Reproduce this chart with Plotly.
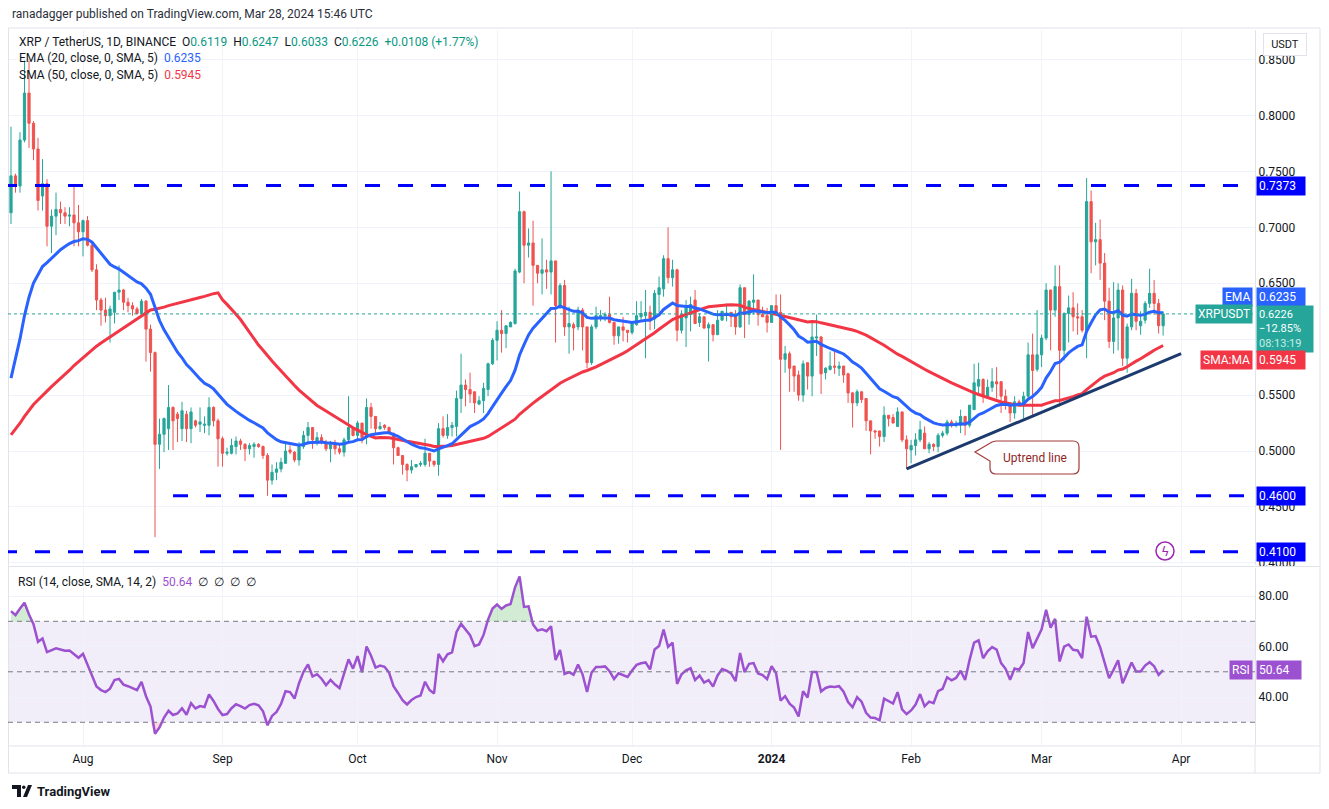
import numpy as np
import pandas as pd
import plotly.graph_objects as go
from plotly.subplots import make_subplots

# closes before the first visible candle (27 May - 15 Jul 2023), only used to warm up EMA/SMA/RSI
history_closes = [0.470, 0.487, 0.511, 0.513, 0.518,
                  0.515, 0.522, 0.520, 0.523, 0.510, 0.540, 0.525, 0.531, 0.520, 0.495,
                  0.515, 0.525, 0.515, 0.475, 0.490, 0.484, 0.486, 0.488, 0.491, 0.501,
                  0.508, 0.499, 0.494, 0.486, 0.487, 0.481, 0.480, 0.472, 0.475, 0.473,
                  0.475, 0.479, 0.484, 0.478, 0.478, 0.471, 0.475, 0.468, 0.470, 0.472,
                  0.474, 0.473, 0.810, 0.705, 0.713]

# daily candles (open, high, low, close)
jul = [(0.713, 0.790, 0.703, 0.746), (0.746, 0.748, 0.731, 0.737), (0.737, 0.785, 0.731, 0.778),
       (0.778, 0.849, 0.776, 0.820), (0.820, 0.849, 0.771, 0.793), (0.793, 0.795, 0.760, 0.770),
       (0.770, 0.780, 0.715, 0.724), (0.728, 0.761, 0.715, 0.739), (0.739, 0.743, 0.683, 0.701),
       (0.701, 0.716, 0.677, 0.710), (0.710, 0.731, 0.693, 0.716), (0.716, 0.723, 0.703, 0.713),
       (0.713, 0.718, 0.703, 0.710), (0.710, 0.718, 0.701, 0.711), (0.711, 0.736, 0.683, 0.704),
       (0.704, 0.720, 0.683, 0.696)]
aug = [(0.696, 0.707, 0.674, 0.706), (0.706, 0.710, 0.683, 0.684), (0.684, 0.688, 0.660, 0.662),
       (0.662, 0.667, 0.626, 0.635), (0.635, 0.637, 0.612, 0.626), (0.626, 0.637, 0.615, 0.621),
       (0.621, 0.630, 0.597, 0.627), (0.624, 0.642, 0.614, 0.642), (0.642, 0.666, 0.635, 0.644),
       (0.644, 0.645, 0.626, 0.633), (0.633, 0.637, 0.624, 0.630), (0.630, 0.633, 0.621, 0.627),
       (0.627, 0.629, 0.622, 0.623), (0.623, 0.636, 0.621, 0.634), (0.634, 0.635, 0.580, 0.609),
       (0.609, 0.613, 0.571, 0.588), (0.588, 0.589, 0.423, 0.506), (0.506, 0.529, 0.484, 0.515),
       (0.515, 0.530, 0.499, 0.529), (0.520, 0.559, 0.501, 0.539), (0.539, 0.540, 0.501, 0.527),
       (0.533, 0.535, 0.508, 0.529), (0.520, 0.544, 0.509, 0.536), (0.533, 0.536, 0.508, 0.520),
       (0.520, 0.539, 0.507, 0.535), (0.527, 0.528, 0.521, 0.523), (0.524, 0.539, 0.517, 0.526),
       (0.523, 0.531, 0.516, 0.524), (0.523, 0.548, 0.514, 0.539), (0.539, 0.540, 0.522, 0.527),
       (0.527, 0.529, 0.486, 0.511)]
sep = [(0.511, 0.513, 0.486, 0.498), (0.498, 0.503, 0.496, 0.499), (0.498, 0.511, 0.497, 0.505),
       (0.504, 0.513, 0.497, 0.509), (0.509, 0.511, 0.501, 0.506), (0.506, 0.507, 0.491, 0.502),
       (0.502, 0.507, 0.497, 0.505), (0.504, 0.508, 0.494, 0.506), (0.506, 0.507, 0.503, 0.504),
       (0.504, 0.505, 0.493, 0.496), (0.496, 0.498, 0.460, 0.474), (0.474, 0.488, 0.470, 0.481),
       (0.481, 0.490, 0.474, 0.484), (0.484, 0.494, 0.481, 0.490), (0.489, 0.508, 0.489, 0.500),
       (0.501, 0.505, 0.497, 0.499), (0.499, 0.500, 0.490, 0.492), (0.492, 0.508, 0.487, 0.504),
       (0.504, 0.518, 0.502, 0.514), (0.514, 0.526, 0.506, 0.521), (0.521, 0.521, 0.502, 0.510),
       (0.507, 0.517, 0.505, 0.512), (0.512, 0.515, 0.506, 0.508), (0.508, 0.510, 0.500, 0.502),
       (0.502, 0.509, 0.490, 0.506), (0.506, 0.510, 0.497, 0.502), (0.502, 0.506, 0.497, 0.499),
       (0.499, 0.512, 0.495, 0.510), (0.510, 0.549, 0.507, 0.521), (0.521, 0.521, 0.513, 0.514)]
oct_ = [(0.514, 0.527, 0.511, 0.525), (0.525, 0.525, 0.507, 0.512), (0.512, 0.547, 0.506, 0.539),
        (0.539, 0.543, 0.520, 0.531), (0.531, 0.531, 0.516, 0.520), (0.520, 0.526, 0.519, 0.522),
        (0.523, 0.524, 0.519, 0.521), (0.521, 0.522, 0.516, 0.516), (0.516, 0.516, 0.488, 0.503),
        (0.503, 0.504, 0.496, 0.496), (0.496, 0.496, 0.479, 0.488), (0.488, 0.489, 0.473, 0.483),
        (0.483, 0.492, 0.480, 0.486), (0.486, 0.488, 0.485, 0.488), (0.488, 0.491, 0.486, 0.489),
        (0.488, 0.511, 0.486, 0.498), (0.498, 0.498, 0.486, 0.491), (0.491, 0.491, 0.486, 0.488),
        (0.488, 0.525, 0.478, 0.520), (0.520, 0.531, 0.512, 0.514), (0.514, 0.533, 0.511, 0.521),
        (0.521, 0.526, 0.513, 0.523), (0.522, 0.554, 0.513, 0.547), (0.547, 0.587, 0.534, 0.559),
        (0.559, 0.564, 0.540, 0.555), (0.555, 0.570, 0.543, 0.551), (0.553, 0.553, 0.534, 0.543),
        (0.542, 0.549, 0.541, 0.545), (0.545, 0.561, 0.534, 0.556), (0.555, 0.579, 0.549, 0.578),
        (0.578, 0.601, 0.577, 0.599)]
nov = [(0.599, 0.616, 0.581, 0.608), (0.608, 0.626, 0.588, 0.605), (0.605, 0.612, 0.592, 0.612),
       (0.611, 0.616, 0.611, 0.615), (0.614, 0.663, 0.613, 0.661), (0.660, 0.732, 0.659, 0.714),
       (0.714, 0.715, 0.650, 0.684), (0.684, 0.699, 0.673, 0.686), (0.686, 0.706, 0.630, 0.666),
       (0.666, 0.666, 0.650, 0.659), (0.659, 0.690, 0.640, 0.662), (0.662, 0.671, 0.645, 0.660),
       (0.660, 0.750, 0.640, 0.670), (0.670, 0.670, 0.597, 0.630), (0.630, 0.650, 0.627, 0.648),
       (0.648, 0.653, 0.603, 0.611), (0.611, 0.629, 0.587, 0.614), (0.613, 0.615, 0.590, 0.610),
       (0.611, 0.629, 0.608, 0.626), (0.626, 0.628, 0.590, 0.611), (0.611, 0.611, 0.574, 0.579),
       (0.579, 0.613, 0.577, 0.611), (0.611, 0.629, 0.609, 0.621), (0.620, 0.626, 0.616, 0.621),
       (0.621, 0.624, 0.616, 0.622), (0.622, 0.638, 0.614, 0.615), (0.615, 0.615, 0.595, 0.603),
       (0.603, 0.611, 0.596, 0.611), (0.611, 0.620, 0.598, 0.608), (0.608, 0.608, 0.597, 0.606)]
dec = [(0.606, 0.616, 0.604, 0.614), (0.613, 0.634, 0.612, 0.621), (0.620, 0.634, 0.617, 0.623),
       (0.621, 0.644, 0.583, 0.624), (0.624, 0.630, 0.608, 0.617), (0.618, 0.644, 0.609, 0.641),
       (0.640, 0.656, 0.624, 0.646), (0.645, 0.675, 0.638, 0.672), (0.672, 0.700, 0.650, 0.655),
       (0.655, 0.671, 0.647, 0.662), (0.662, 0.663, 0.598, 0.608), (0.608, 0.626, 0.605, 0.622),
       (0.619, 0.635, 0.593, 0.628), (0.622, 0.638, 0.607, 0.631), (0.635, 0.644, 0.614, 0.614),
       (0.615, 0.623, 0.611, 0.620), (0.620, 0.620, 0.609, 0.610), (0.610, 0.615, 0.580, 0.613),
       (0.613, 0.613, 0.598, 0.604), (0.604, 0.626, 0.604, 0.617), (0.617, 0.625, 0.617, 0.625),
       (0.622, 0.632, 0.616, 0.623), (0.624, 0.624, 0.611, 0.620), (0.620, 0.626, 0.604, 0.611),
       (0.611, 0.649, 0.610, 0.646), (0.646, 0.646, 0.601, 0.622), (0.622, 0.635, 0.613, 0.634),
       (0.633, 0.658, 0.622, 0.635), (0.635, 0.635, 0.612, 0.622), (0.622, 0.629, 0.620, 0.620),
       (0.621, 0.628, 0.606, 0.615)]
jan = [(0.615, 0.630, 0.615, 0.630), (0.630, 0.640, 0.622, 0.622), (0.624, 0.640, 0.501, 0.582),
       (0.582, 0.594, 0.570, 0.587), (0.587, 0.589, 0.553, 0.574), (0.576, 0.576, 0.553, 0.567),
       (0.568, 0.572, 0.545, 0.550), (0.550, 0.581, 0.544, 0.578), (0.579, 0.579, 0.555, 0.567),
       (0.567, 0.616, 0.549, 0.602), (0.601, 0.622, 0.585, 0.602), (0.602, 0.603, 0.551, 0.569),
       (0.570, 0.575, 0.564, 0.574), (0.573, 0.589, 0.572, 0.576), (0.576, 0.589, 0.569, 0.575),
       (0.574, 0.580, 0.567, 0.576), (0.576, 0.576, 0.561, 0.568), (0.569, 0.570, 0.543, 0.552),
       (0.552, 0.553, 0.521, 0.543), (0.543, 0.555, 0.540, 0.553), (0.553, 0.553, 0.543, 0.546),
       (0.547, 0.547, 0.518, 0.527), (0.527, 0.527, 0.497, 0.518), (0.518, 0.519, 0.511, 0.517),
       (0.518, 0.518, 0.504, 0.513), (0.513, 0.540, 0.508, 0.532), (0.532, 0.532, 0.522, 0.529),
       (0.530, 0.533, 0.525, 0.525), (0.522, 0.539, 0.522, 0.535), (0.535, 0.535, 0.508, 0.510),
       (0.510, 0.514, 0.484, 0.502)]
feb = [(0.501, 0.510, 0.489, 0.505), (0.505, 0.516, 0.496, 0.510), (0.510, 0.527, 0.508, 0.519),
       (0.516, 0.522, 0.502, 0.502), (0.502, 0.508, 0.498, 0.506), (0.506, 0.507, 0.500, 0.504),
       (0.504, 0.516, 0.499, 0.514), (0.514, 0.518, 0.512, 0.516), (0.516, 0.528, 0.514, 0.526),
       (0.526, 0.528, 0.521, 0.523), (0.523, 0.527, 0.521, 0.525), (0.523, 0.537, 0.516, 0.531),
       (0.531, 0.531, 0.514, 0.523), (0.523, 0.541, 0.521, 0.541), (0.537, 0.578, 0.537, 0.561),
       (0.558, 0.579, 0.550, 0.564), (0.564, 0.565, 0.543, 0.549), (0.549, 0.564, 0.547, 0.557),
       (0.557, 0.574, 0.553, 0.562), (0.562, 0.575, 0.547, 0.560), (0.562, 0.562, 0.534, 0.549),
       (0.549, 0.555, 0.537, 0.544), (0.543, 0.543, 0.526, 0.534), (0.534, 0.549, 0.529, 0.544),
       (0.544, 0.546, 0.540, 0.543), (0.543, 0.553, 0.529, 0.549), (0.549, 0.597, 0.546, 0.586),
       (0.586, 0.605, 0.531, 0.572), (0.573, 0.626, 0.571, 0.586)]
mar = [(0.586, 0.604, 0.575, 0.601), (0.601, 0.650, 0.599, 0.644), (0.644, 0.644, 0.590, 0.626),
       (0.626, 0.666, 0.620, 0.647), (0.647, 0.666, 0.540, 0.590), (0.590, 0.624, 0.581, 0.623),
       (0.623, 0.639, 0.597, 0.628), (0.628, 0.642, 0.607, 0.620), (0.620, 0.632, 0.604, 0.619),
       (0.620, 0.626, 0.606, 0.608), (0.608, 0.744, 0.583, 0.723), (0.723, 0.733, 0.659, 0.687),
       (0.687, 0.704, 0.666, 0.689), (0.689, 0.707, 0.653, 0.668), (0.668, 0.677, 0.617, 0.634),
       (0.634, 0.646, 0.592, 0.598), (0.598, 0.651, 0.587, 0.619), (0.619, 0.650, 0.590, 0.644),
       (0.644, 0.648, 0.576, 0.583), (0.583, 0.614, 0.570, 0.611), (0.611, 0.654, 0.608, 0.641),
       (0.641, 0.645, 0.608, 0.616), (0.612, 0.625, 0.604, 0.616), (0.617, 0.634, 0.614, 0.632),
       (0.632, 0.663, 0.628, 0.641), (0.641, 0.653, 0.622, 0.632), (0.632, 0.636, 0.605, 0.612),
       (0.6119, 0.6247, 0.6033, 0.6226)]

rows = jul + aug + sep + oct_ + nov + dec + jan + feb + mar
dates = pd.date_range("2023-07-16", periods=len(rows), freq="D")
opens = [r[0] for r in rows]
highs = [r[1] for r in rows]
lows = [r[2] for r in rows]
closes = [r[3] for r in rows]

levels = [0.7373, 0.4600, 0.4100]
level_starts = ["2023-07-14", "2023-08-21", "2023-07-14"]
trend_dates = ["2024-01-31", "2024-04-01"]
trend_prices = [0.484, 0.587]
last_close = 0.6226
ema_last, sma_last, rsi_last = 0.6235, 0.5945, 50.64
month_ticks = ["2023-08-01", "2023-09-01", "2023-10-01", "2023-11-01", "2023-12-01",
               "2024-01-01", "2024-02-01", "2024-03-01", "2024-04-01"]
month_labels = ["Aug", "Sep", "Oct", "Nov", "Dec", "<b>2024</b>", "Feb", "Mar", "Apr"]
price_ticks = [0.40, 0.45, 0.50, 0.55, 0.60, 0.65, 0.70, 0.75, 0.80, 0.85]
price_labels = ["0.4000", "0.4500", "0.5000", "0.5500", "", "0.6500", "0.7000", "0.7500",
                "0.8000", "0.8500"]  # 0.6000 sits behind the price labels
rsi_ticks = [40, 60, 80]

# indicators
s = pd.Series(history_closes + closes)
n0 = len(history_closes)
ema = s.ewm(span=20, adjust=False).mean().iloc[n0:].values
sma = s.rolling(50).mean().iloc[n0:].values
d = s.diff()
up = d.clip(lower=0).ewm(alpha=1 / 14, adjust=False).mean()
dn = (-d.clip(upper=0)).ewm(alpha=1 / 14, adjust=False).mean()
rsi = (100 - 100 / (1 + up / dn)).iloc[n0:].values

GREEN, RED = "#26a69a", "#ef5350"
BLUE = "#0000ff"
EMA_C, SMA_C, RSI_C = "#2962ff", "#f23645", "#9c51d0"
FONT = "Roboto"
X0, X1 = "2023-07-15 08:00", "2024-04-17 10:00"

# page has an 8px body margin, so the figure is drawn 8px in from the screenshot's corner
W, H = 1321, 801
L, R, T, B = 0, 74, 22, 64


def px(x):
    # screenshot x (px) -> paper
    return (x - 8) / 1247


def py(y):
    # screenshot y (px) -> paper
    return (745 - y) / 715


fig = make_subplots(rows=2, cols=1, shared_xaxes=True, vertical_spacing=0.004,
                    row_heights=[0.75, 0.25])

fig.add_trace(go.Candlestick(
    x=dates, open=opens, high=highs, low=lows, close=closes,
    increasing=dict(line=dict(color=GREEN, width=1), fillcolor=GREEN),
    decreasing=dict(line=dict(color=RED, width=1), fillcolor=RED),
    whiskerwidth=0, showlegend=False, hoverinfo="skip"), row=1, col=1)
fig.add_trace(go.Scatter(x=dates, y=sma, mode="lines", line=dict(color=SMA_C, width=3),
                         showlegend=False, hoverinfo="skip"), row=1, col=1)
fig.add_trace(go.Scatter(x=dates, y=ema, mode="lines", line=dict(color=EMA_C, width=3),
                         showlegend=False, hoverinfo="skip"), row=1, col=1)

# RSI with overbought / oversold fills
fig.add_trace(go.Scatter(x=dates, y=[70] * len(dates), mode="lines", line=dict(width=0),
                         showlegend=False, hoverinfo="skip"), row=2, col=1)
fig.add_trace(go.Scatter(x=dates, y=np.maximum(rsi, 70), mode="lines", line=dict(width=0),
                         fill="tonexty", fillcolor="rgba(76,175,80,0.25)",
                         showlegend=False, hoverinfo="skip"), row=2, col=1)
fig.add_trace(go.Scatter(x=dates, y=[30] * len(dates), mode="lines", line=dict(width=0),
                         showlegend=False, hoverinfo="skip"), row=2, col=1)
fig.add_trace(go.Scatter(x=dates, y=np.minimum(rsi, 30), mode="lines", line=dict(width=0),
                         fill="tonexty", fillcolor="rgba(242,54,69,0.2)",
                         showlegend=False, hoverinfo="skip"), row=2, col=1)
fig.add_trace(go.Scatter(x=dates, y=rsi, mode="lines", line=dict(color=RSI_C, width=2.5),
                         showlegend=False, hoverinfo="skip"), row=2, col=1)

grid = "#f0f3fa"
fig.update_xaxes(type="date", range=[X0, X1], tickvals=month_ticks, ticktext=month_labels,
                 showgrid=True, gridcolor=grid, zeroline=False, showline=False, ticks="",
                 rangeslider_visible=False, ticklabelstandoff=5,
                 tickfont=dict(family=FONT, size=12, color="#131722"))
fig.update_xaxes(showticklabels=False, row=1, col=1)
fig.update_yaxes(side="right", range=[0.3981, 0.8764], tickvals=price_ticks,
                 ticktext=price_labels, showgrid=True, gridcolor=grid,
                 zeroline=False, showline=True, linecolor="#e0e3eb", ticks="",
                 tickfont=dict(family=FONT, size=12, color="#131722"), row=1, col=1)
fig.update_yaxes(side="right", range=[21.0, 91.1], tickvals=rsi_ticks,
                 ticktext=["%.2f" % v for v in rsi_ticks], showgrid=True, gridcolor=grid,
                 zeroline=False, showline=True, linecolor="#e0e3eb", ticks="",
                 tickfont=dict(family=FONT, size=12, color="#131722"), row=2, col=1)
fig.update_layout(yaxis=dict(domain=[0.2517, 1.0]), yaxis2=dict(domain=[0.0, 0.2475]))

shapes = []
# frame and pane separators
for y0, y1, x0, x1 in [(28, 28, 8, 1320), (566.5, 566.5, 8, 1320), (746, 746, 8, 1320),
                       (773, 773, 8, 1320), (28, 773, 1320, 1320), (28, 773, 8.5, 8.5),
                       (746, 773, 1255, 1255)]:
    shapes.append(dict(type="line", xref="paper", yref="paper", x0=px(x0), x1=px(x1),
                       y0=py(y0), y1=py(y1), line=dict(color="#e0e3eb", width=1)))
# RSI band and reference lines
shapes.append(dict(type="rect", xref="x2 domain", yref="y2", x0=0, x1=1, y0=30, y1=70,
                   fillcolor="rgba(126,87,194,0.1)", line=dict(width=0), layer="below"))
for v in [70, 50, 30]:
    shapes.append(dict(type="line", xref="x2 domain", yref="y2", x0=0, x1=1, y0=v, y1=v,
                       line=dict(color="#787b86", width=1, dash="5px,4px")))
# last price dotted line
shapes.append(dict(type="line", xref="x", yref="y", x0=X0, x1=X1, y0=last_close, y1=last_close,
                   line=dict(color=GREEN, width=1, dash="dot")))
# horizontal levels
for lv, st in zip(levels, level_starts):
    shapes.append(dict(type="line", xref="x", yref="y", x0=st, x1=X1, y0=lv, y1=lv,
                       line=dict(color=BLUE, width=3, dash="15px,18px")))
# uptrend line
shapes.append(dict(type="line", xref="x", yref="y", x0=trend_dates[0], x1=trend_dates[1],
                   y0=trend_prices[0], y1=trend_prices[1], line=dict(color="#1c3a6e", width=3)))

# callout bubble
pts = [("M", 996, 441), ("L", 1073, 441), ("Q", 1079, 441, 1079, 447), ("L", 1079, 468),
       ("Q", 1079, 474, 1073, 474), ("L", 996, 474), ("Q", 990, 474, 990, 468),
       ("L", 990, 461), ("L", 975, 452), ("L", 992, 442)]
path = ""
for p in pts:
    path += p[0] + " " + " ".join("%.5f,%.5f" % (px(p[i]), py(p[i + 1])) for i in range(1, len(p), 2)) + " "
path += "Z"
shapes.append(dict(type="path", xref="paper", yref="paper", path=path,
                   fillcolor="#ffffff", line=dict(color="#a23a3a", width=1.2)))
# lightning circle
shapes.append(dict(type="circle", xref="paper", yref="paper", x0=px(1156), x1=px(1174),
                   y0=py(560), y1=py(542), line=dict(color="#9c27b0", width=1.5),
                   fillcolor="#ffffff"))
# footer logo
shapes.append(dict(type="path", xref="paper", yref="paper",
                   path="M %f,%f L %f,%f L %f,%f L %f,%f L %f,%f L %f,%f Z" % (
                       px(12), py(785), px(21), py(785), px(21), py(797), px(17), py(797),
                       px(17), py(789), px(12), py(789)),
                   fillcolor="#131722", line=dict(width=0)))
shapes.append(dict(type="circle", xref="paper", yref="paper", x0=px(22), x1=px(25.5),
                   y0=py(789), y1=py(785.5), fillcolor="#131722", line=dict(width=0)))
shapes.append(dict(type="path", xref="paper", yref="paper",
                   path="M %f,%f L %f,%f L %f,%f L %f,%f Z" % (
                       px(23), py(797), px(28), py(785), px(32), py(785), px(27), py(797)),
                   fillcolor="#131722", line=dict(width=0)))

ann = []
ann.append(dict(xref="paper", yref="paper", x=px(10), y=py(14), xanchor="left", yanchor="middle",
                text="ranadagger published on TradingView.com, Mar 28, 2024 15:46 UTC",
                showarrow=False, font=dict(family=FONT, size=12, color="#2a2e39")))
tv = "#089981"
ann.append(dict(xref="paper", yref="paper", x=px(17), y=py(42), xanchor="left", yanchor="middle",
                showarrow=False, font=dict(family=FONT, size=12, color="#131722"),
                text=("XRP / TetherUS, 1D, BINANCE&nbsp;&nbsp;O<span style='color:%s'>0.6119</span>"
                      "&nbsp;&nbsp;H<span style='color:%s'>0.6247</span>"
                      "&nbsp;&nbsp;L<span style='color:%s'>0.6033</span>"
                      "&nbsp;&nbsp;C<span style='color:%s'>0.6226</span>"
                      "&nbsp;&nbsp;<span style='color:%s'>+0.0108 (+1.77%%)</span>") % (tv, tv, tv, tv, tv)))
ann.append(dict(xref="paper", yref="paper", x=px(17), y=py(58), xanchor="left", yanchor="middle",
                showarrow=False, font=dict(family=FONT, size=12, color="#131722"),
                text="EMA (20, close, 0, SMA, 5)&nbsp;&nbsp;<span style='color:%s'>%.4f</span>" % (EMA_C, ema_last)))
ann.append(dict(xref="paper", yref="paper", x=px(17), y=py(75), xanchor="left", yanchor="middle",
                showarrow=False, font=dict(family=FONT, size=12, color="#131722"),
                text="SMA (50, close, 0, SMA, 5)&nbsp;&nbsp;<span style='color:%s'>%.4f</span>" % (SMA_C, sma_last)))
ann.append(dict(xref="paper", yref="paper", x=px(16), y=py(582), xanchor="left", yanchor="middle",
                showarrow=False, font=dict(family=FONT, size=12, color="#131722"),
                text="RSI (14, close, SMA, 14, 2)&nbsp;&nbsp;<span style='color:%s'>%.2f</span>"
                     "&nbsp;&nbsp;∅&nbsp;&nbsp;∅&nbsp;&nbsp;∅&nbsp;&nbsp;∅" % (RSI_C, rsi_last)))


def axis_box(y, text, bg, yref="y", yshift=0, width=44, fcolor="white", yanchor="middle", size=12):
    return dict(xref="paper", yref=yref, x=1, y=y, xanchor="left", yanchor=yanchor, xshift=1,
                yshift=yshift, text=text, showarrow=False, bgcolor=bg, width=width, align="left",
                borderpad=2, font=dict(family=FONT, size=size, color=fcolor))


def side_box(y, text, bg, yshift=0):
    return dict(xref="paper", yref="y", x=1, y=y, xanchor="right", yanchor="middle", xshift=-2,
                yshift=yshift, text=text, showarrow=False, bgcolor=bg, borderpad=2,
                font=dict(family=FONT, size=12, color="white"))


for lv in levels:
    ann.append(axis_box(lv, "%.4f" % lv, BLUE))
ann.append(axis_box(ema_last, "%.4f" % ema_last, EMA_C, yshift=16))
ann.append(side_box(ema_last, "EMA", EMA_C, yshift=16))
ann.append(axis_box(last_close, "%.4f<br>−12.85%%<br><span style='color:#c9ece8'>08:13:19</span>" % last_close,
                    GREEN, yshift=9, width=52, yanchor="top", size=11))
ann.append(side_box(last_close, "XRPUSDT", GREEN))
ann.append(axis_box(sma_last, "%.4f" % sma_last, SMA_C, yshift=-15))
ann.append(side_box(sma_last, "SMA:MA", SMA_C, yshift=-15))
ann.append(dict(xref="paper", yref="y2", x=1, y=rsi_last, xanchor="left", yanchor="middle", xshift=1,
                text="%.2f" % rsi_last, showarrow=False, bgcolor=RSI_C, width=40, align="left",
                borderpad=2, font=dict(family=FONT, size=12, color="white")))
ann.append(dict(xref="paper", yref="y2", x=1, y=rsi_last, xanchor="right", yanchor="middle", xshift=-2,
                text="RSI", showarrow=False, bgcolor=RSI_C, borderpad=2,
                font=dict(family=FONT, size=12, color="white")))
ann.append(dict(xref="paper", yref="paper", x=px(1263), y=py(45), xanchor="left", yanchor="middle",
                text="USDT", showarrow=False, bgcolor="white", bordercolor="#e0e3eb", borderwidth=1,
                borderpad=4, width=34, font=dict(family=FONT, size=11, color="#131722")))
ann.append(dict(xref="paper", yref="paper", x=px(1035), y=py(458), xanchor="center", yanchor="middle",
                text="Uptrend line", showarrow=False, font=dict(family=FONT, size=12, color="#8e1f1f")))
ann.append(dict(xref="paper", yref="paper", x=px(1165), y=py(551), xanchor="center", yanchor="middle",
                text="ϟ", showarrow=False, font=dict(family="DejaVu Sans", size=13, color="#9c27b0")))
ann.append(dict(xref="paper", yref="paper", x=px(35), y=py(791), xanchor="left", yanchor="middle",
                text="<b>TradingView</b>", showarrow=False,
                font=dict(family=FONT, size=13, color="#131722")))

fig.update_layout(width=W, height=H, margin=dict(l=L, r=R, t=T, b=B),
                  paper_bgcolor="white", plot_bgcolor="white", showlegend=False,
                  shapes=shapes, annotations=ann, hovermode=False)

fig.write_html("out.html")
